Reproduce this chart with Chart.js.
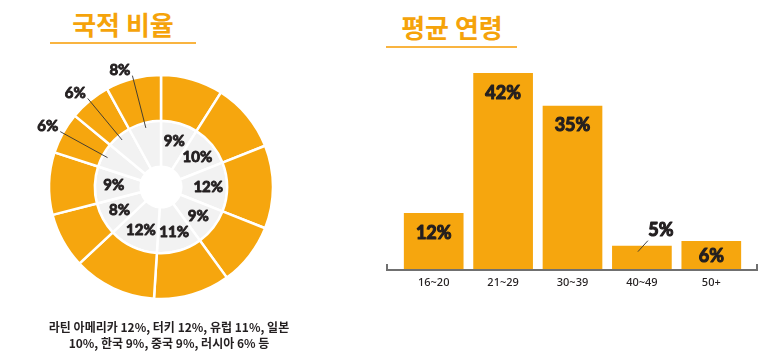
<!DOCTYPE html>
<html>
<head>
<meta charset="utf-8">
<script src="https://cdn.jsdelivr.net/npm/chart.js@4.4.1/dist/chart.umd.min.js"></script>
<style>
  html, body { margin: 0; padding: 0; background: #ffffff; }
  body { width: 780px; height: 358px; position: relative; overflow: hidden; font-family: "Noto Sans CJK KR", "Noto Sans", sans-serif; }
  .title { position: absolute; color: #F5A30A; font-weight: 700; font-size: 26px; line-height: 30px; white-space: nowrap; text-align: center; }
  .uline { position: absolute; height: 2px; background: #F9B440; }
  .caption { position: absolute; left: 20px; width: 298px; top: 319px; text-align: center; font-size: 12px; line-height: 16px; font-weight: 600; color: #231F20; }
  canvas { position: absolute; }
</style>
</head>
<body>
<div class="title" style="left:53px; width:140px; top:9px;">국적 비율</div>
<div class="uline" style="left:50px; width:146px; top:42px;"></div>
<div class="title" style="left:382px; width:140px; top:12px;">평균 연령</div>
<div class="uline" style="left:386px; width:131px; top:46px;"></div>

<canvas id="donut" width="322" height="300" style="left:0px; top:37px;"></canvas>
<canvas id="bars" width="400" height="260" style="left:380px; top:55px;"></canvas>

<div class="caption">라틴 아메리카 12%, 터키 12%, 유럽 11%, 일본<br>10%, 한국 9%, 중국 9%, 러시아 6% 등</div>

<script>
// ---- data ----
const nationalityShares = [9, 10, 12, 9, 11, 12, 8, 9, 6, 6, 8];
const nationalityLabels = ["9%", "10%", "12%", "9%", "11%", "12%", "8%", "9%", "6%", "6%", "8%"];
const outsideLabelIdx = [8, 9, 10];

const ageCategories = ["16~20", "21~29", "30~39", "40~49", "50+"];
const ageShares = [12, 42, 35, 5, 6];
const ageLabels = ["12%", "42%", "35%", "5%", "6%"];

const ORANGE = "#F6A60E";
const GRAY = "#F2F2F2";
const INK = "#231F20";
const LABEL_FONT = "700 15px Lato, 'DejaVu Sans', sans-serif";
const BAR_FONT = "700 18px Lato, 'DejaVu Sans', sans-serif";

function heavyText(ctx, txt, x, y, w) {
  ctx.lineWidth = w;
  ctx.lineJoin = "round";
  ctx.strokeText(txt, x, y);
  ctx.fillText(txt, x, y);
}

// ---- doughnut labels plugin ----
const donutLabels = {
  id: "donutLabels",
  afterDatasetsDraw(chart) {
    const ctx = chart.ctx;
    const meta = chart.getDatasetMeta(1);
    ctx.save();
    ctx.fillStyle = INK;
    ctx.font = LABEL_FONT;
    meta.data.forEach((arc, i) => {
      const p = arc.getProps(["x", "y", "startAngle", "endAngle", "innerRadius", "outerRadius"], true);
      const mid = (p.startAngle + p.endAngle) / 2;
      if (outsideLabelIdx.includes(i)) {
        const r0 = 61, r1 = 115;
        const sx = p.x + Math.cos(mid) * r0, sy = p.y + Math.sin(mid) * r0;
        const ex = p.x + Math.cos(mid) * r1, ey = p.y + Math.sin(mid) * r1;
        ctx.strokeStyle = "#333333";
        ctx.lineWidth = 0.9;
        ctx.beginPath(); ctx.moveTo(sx, sy); ctx.lineTo(ex, ey); ctx.stroke();
        ctx.textAlign = "right"; ctx.textBaseline = "middle";
        ctx.strokeStyle = INK;
        heavyText(ctx, nationalityLabels[i], ex - 2, ey - 5, 0.9);
      } else {
        const r = (p.innerRadius + p.outerRadius) / 2 + 4;
        ctx.textAlign = "center"; ctx.textBaseline = "middle";
        ctx.strokeStyle = INK;
        heavyText(ctx, nationalityLabels[i], p.x + Math.cos(mid) * r, p.y + Math.sin(mid) * r, 0.9);
      }
    });
    ctx.restore();
  }
};

new Chart(document.getElementById("donut"), {
  type: "doughnut",
  data: {
    labels: nationalityLabels,
    datasets: [
      { data: nationalityShares, backgroundColor: ORANGE, borderColor: "#ffffff", borderWidth: 2.5 },
      { data: nationalityShares, backgroundColor: GRAY, borderColor: "#ffffff", borderWidth: 2.5 }
    ]
  },
  options: {
    responsive: false,
    animation: false,
    radius: 112,
    cutout: 27,
    layout: { padding: 0 },
    plugins: { legend: { display: false }, tooltip: { enabled: false } }
  },
  plugins: [donutLabels]
});

// ---- bar plugins ----
const barLabels = {
  id: "barLabels",
  afterDatasetsDraw(chart) {
    const ctx = chart.ctx;
    const meta = chart.getDatasetMeta(0);
    ctx.save();
    ctx.fillStyle = INK;
    ctx.font = BAR_FONT;
    ctx.textAlign = "center"; ctx.textBaseline = "middle";
    meta.data.forEach((bar, i) => {
      const h = bar.base - bar.y;
      if (h < 25) {
        ctx.strokeStyle = "#333333";
        ctx.lineWidth = 0.9;
        ctx.beginPath(); ctx.moveTo(bar.x - 4, bar.y + 6); ctx.lineTo(bar.x + 6, bar.y - 5); ctx.stroke();
        ctx.strokeStyle = INK;
        heavyText(ctx, ageLabels[i], bar.x + 19, bar.y - 15, 1.1);
      } else {
        ctx.strokeStyle = INK;
        heavyText(ctx, ageLabels[i], bar.x, bar.y + Math.min(20, h / 2 + 1.5), 1.1);
      }
    });
    ctx.restore();
  }
};
const axisLine = {
  id: "axisLine",
  afterDatasetsDraw(chart) {
    const { ctx, chartArea } = chart;
    const y = chartArea.bottom + 1;
    const l = chartArea.left - 12, r = chartArea.right + 11;
    ctx.save();
    ctx.strokeStyle = "#707070";
    ctx.lineWidth = 2;
    ctx.beginPath();
    ctx.moveTo(l, y - 6); ctx.lineTo(l, y); ctx.lineTo(r, y); ctx.lineTo(r, y - 6);
    ctx.stroke();
    ctx.restore();
  }
};

new Chart(document.getElementById("bars"), {
  type: "bar",
  data: {
    labels: ageCategories,
    datasets: [{ data: ageShares, backgroundColor: ORANGE, borderWidth: 0, barPercentage: 0.86, categoryPercentage: 1 }]
  },
  options: {
    responsive: false,
    animation: false,
    layout: { padding: { left: 19, right: 34, top: 4, bottom: 0 } },
    scales: {
      y: { display: false, min: 0, max: 45 },
      x: {
        grid: { display: false, drawTicks: false },
        border: { display: false },
        ticks: { color: INK, font: { family: "'Noto Sans', sans-serif", size: 11, weight: 500 }, padding: 7 },
        afterFit: (s) => { s.height = 46; }
      }
    },
    plugins: { legend: { display: false }, tooltip: { enabled: false } }
  },
  plugins: [barLabels, axisLine]
});
</script>
</body>
</html>
